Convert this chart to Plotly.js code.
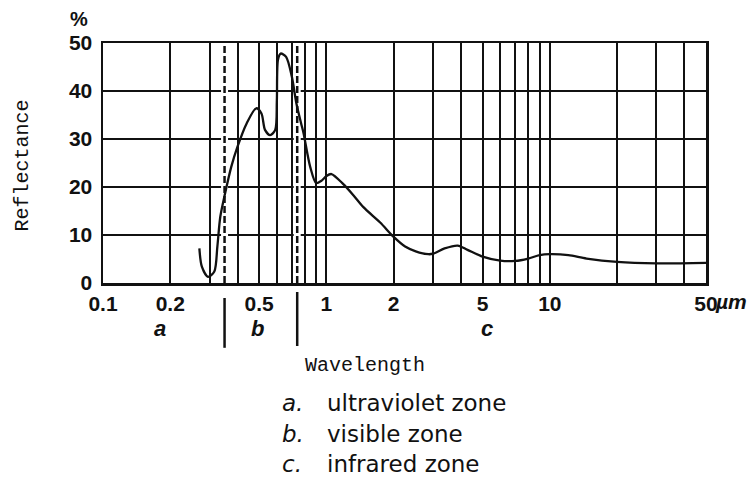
<!DOCTYPE html>
<html>
<head>
<meta charset="utf-8">
<script src="https://cdn.plot.ly/plotly-3.0.1.min.js"></script>
<style>
  html, body { margin: 0; padding: 0; background: #fff; }
  #chart { width: 752px; height: 482px; }
</style>
</head>
<body>
<div id="chart"></div>
<script>
// Spectral reflectance curve (wavelength in µm, reflectance in %)
const wavelength = [0.27, 0.277, 0.295, 0.315, 0.325, 0.335, 0.352, 0.375, 0.40, 0.44, 0.485, 0.512, 0.531,
  0.56, 0.59, 0.60, 0.607, 0.624, 0.66, 0.70, 0.734, 0.77, 0.79, 0.846, 0.90, 0.95, 1.0, 1.053, 1.19, 1.32,
  1.464, 1.74, 2.0, 2.25, 2.51, 2.86, 3.0, 3.38, 3.87, 4.28, 5, 6, 7, 8, 9, 10, 12.1, 14.6, 20, 30, 50];
const reflectance = [7.2, 3.4, 1.3, 2.4, 7.6, 13.8, 18.7, 24.2, 28.4, 33.3, 36.4, 35.3, 31.9,
  30.8, 31.9, 38, 46.5, 47.8, 47.1, 43, 37.4, 33.3, 31.2, 24.2, 20.8, 21.3, 22.3, 22.7, 20.6, 18.3,
  15.8, 12.6, 9.6, 7.6, 6.6, 6.0, 6.1, 7.2, 7.8, 6.9, 5.5, 4.65, 4.6, 5.1, 5.8, 6.0, 5.8, 5.1, 4.4, 4.1, 4.2];

// Log grid positions and their labels
const gridVals = [0.1, 0.2, 0.3, 0.4, 0.5, 0.6, 0.7, 0.8, 0.9, 1, 2, 3, 4, 5, 6, 7, 8, 9, 10, 20, 30, 40, 50];
const gridText = ['0.1', '0.2', '', '', '0.5', '', '', '', '', '1', '2', '', '', '5', '', '', '', '', '10', '', '', '', '50'];
const yTicks = [0, 10, 20, 30, 40, 50];

// Zone boundaries (µm) and zone labels
const zoneBounds = [0.35, 0.74];
const zoneLetters = ['a', 'b', 'c'];
const zoneLetterX = [0.095, 0.257, 0.637];
const zoneNames = ['ultraviolet zone', 'visible zone', 'infrared zone'];

const xMin = 0.1, xMax = 50;
const toPaperX = v => (Math.log10(v) - Math.log10(xMin)) / (Math.log10(xMax) - Math.log10(xMin));

const tickFont = { family: 'Liberation Sans, Arial, sans-serif', size: 21, color: '#111', weight: 'bold' };
const typeFont = { family: 'Liberation Mono, DejaVu Sans Mono, monospace', size: 20, color: '#111' };
const textFont = { family: 'DejaVu Sans, sans-serif', size: 23, color: '#111' };
const italicFont = { family: 'DejaVu Sans, sans-serif', size: 23, color: '#111', style: 'italic' };

const traces = [];
// dashed zone boundaries inside the plot, with a white gap behind them
zoneBounds.forEach(b => {
  traces.push({ x: [b, b], y: [0, 50], type: 'scatter', mode: 'lines',
    line: { color: '#fff', width: 7 }, hoverinfo: 'skip', showlegend: false });
  traces.push({ x: [b, b], y: [0, 50], type: 'scatter', mode: 'lines',
    line: { color: '#111', width: 2.5, dash: '7px,3px' }, hoverinfo: 'skip', showlegend: false });
});
traces.push({
  x: wavelength, y: reflectance, type: 'scatter', mode: 'lines',
  line: { color: '#111', width: 2.3, shape: 'spline', smoothing: 0.8 },
  hoverinfo: 'skip', showlegend: false
});

// solid separators between the zone letters, under the axis
const sepTop = [-0.0625, -0.0375];
const sepBottom = [-0.27, -0.2625];
const shapes = zoneBounds.map((b, i) => ({
  type: 'line', xref: 'paper', yref: 'paper', x0: toPaperX(b), x1: toPaperX(b),
  y0: sepTop[i], y1: sepBottom[i], line: { color: '#111', width: 2.5 }
}));

const annotations = [
  { text: '%', xref: 'paper', yref: 'paper', x: -0.04, y: 1.1, xanchor: 'center', yanchor: 'middle', showarrow: false,
    font: { family: 'Liberation Sans, Arial, sans-serif', size: 20, color: '#111', weight: 'bold' } },
  { text: 'µm', xref: 'paper', yref: 'paper', x: 1.012, y: -0.075, xanchor: 'left', yanchor: 'middle',
    showarrow: false, font: { family: 'Liberation Sans, Arial, sans-serif', size: 21, color: '#111', weight: 'bold', style: 'italic' } },
  { text: 'Reflectance', xref: 'paper', yref: 'paper', x: -0.134, y: 0.49, xanchor: 'center', yanchor: 'middle',
    textangle: -90, showarrow: false, font: typeFont },
  { text: 'Wavelength', xref: 'paper', yref: 'paper', x: 0.4345, y: -0.342, xanchor: 'center', yanchor: 'middle',
    showarrow: false, font: typeFont }
];
zoneLetters.forEach((l, i) => {
  annotations.push({ text: l, xref: 'paper', yref: 'paper', x: zoneLetterX[i], y: -0.1875,
    xanchor: 'center', yanchor: 'middle', showarrow: false,
    font: { family: 'Liberation Sans, Arial, sans-serif', size: 22, color: '#111', weight: 'bold', style: 'italic' } });
  annotations.push({ text: l + '.', xref: 'paper', yref: 'paper', x: 0.2935, y: -0.5 - i * 0.128,
    xanchor: 'left', yanchor: 'middle', showarrow: false, font: italicFont });
  annotations.push({ text: zoneNames[i], xref: 'paper', yref: 'paper', x: 0.368, y: -0.5 - i * 0.128,
    xanchor: 'left', yanchor: 'middle', showarrow: false, font: textFont });
});

const layout = {
  width: 752, height: 482,
  margin: { l: 103, r: 46, t: 43, b: 199 },
  paper_bgcolor: '#fff', plot_bgcolor: '#fff',
  xaxis: {
    type: 'log', range: [Math.log10(xMin), Math.log10(xMax)],
    tickmode: 'array', tickvals: gridVals, ticktext: gridText,
    showgrid: true, gridcolor: '#111', gridwidth: 2,
    showline: true, linecolor: '#111', linewidth: 2.5, mirror: true,
    ticks: '', ticklabelstandoff: 0, zeroline: false, tickfont: tickFont, fixedrange: true
  },
  yaxis: {
    range: [0, 50], tickmode: 'array', tickvals: yTicks,
    showgrid: true, gridcolor: '#111', gridwidth: 2,
    showline: true, linecolor: '#111', linewidth: 2.5, mirror: true,
    ticks: '', ticklabelstandoff: 4, zeroline: false, tickfont: tickFont, fixedrange: true
  },
  shapes: shapes,
  annotations: annotations
};

Plotly.newPlot('chart', traces, layout, { displayModeBar: false, staticPlot: true });
</script>
</body>
</html>
